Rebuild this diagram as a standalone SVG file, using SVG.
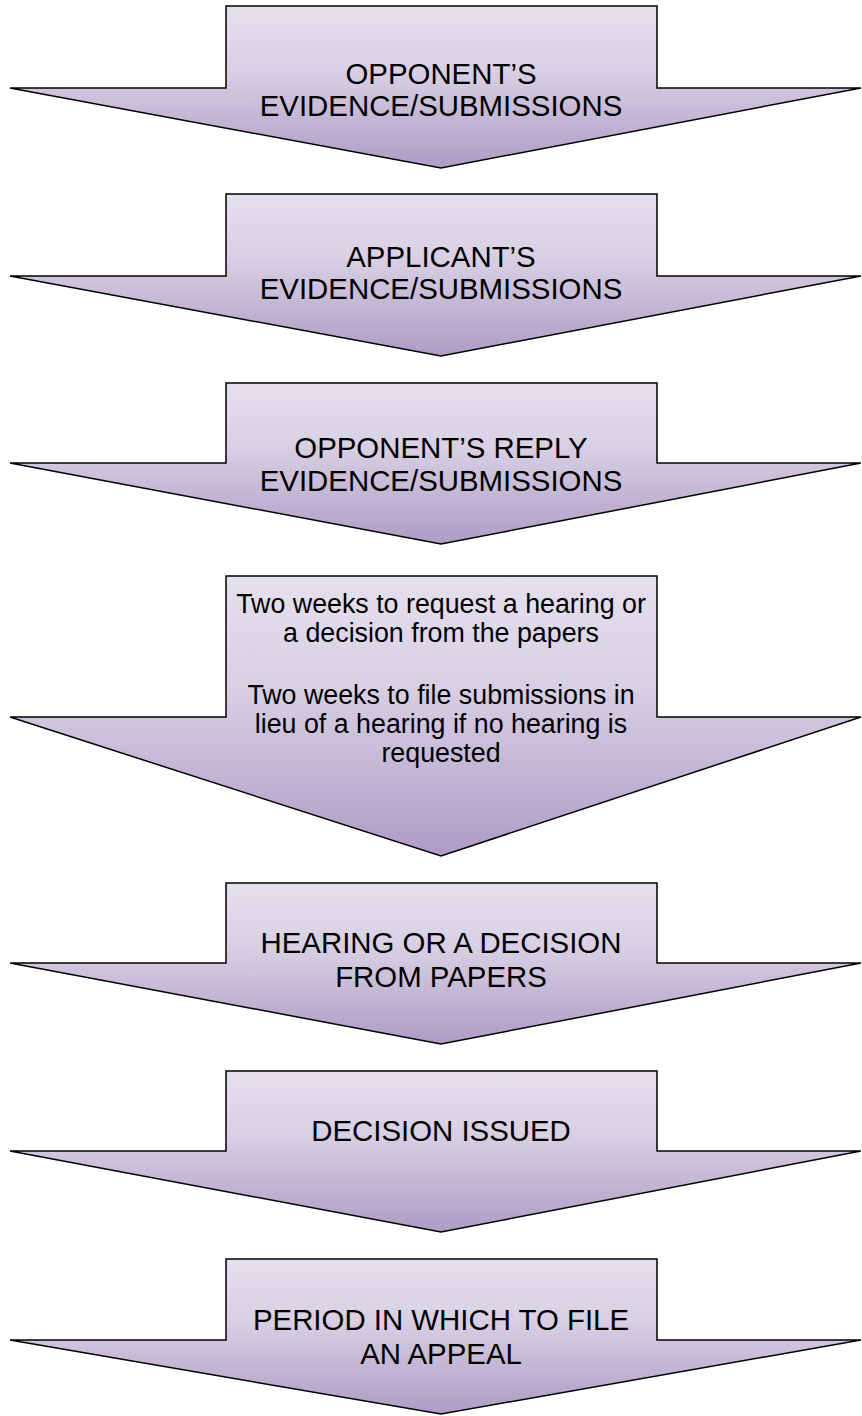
<svg xmlns="http://www.w3.org/2000/svg" width="862" height="1416" viewBox="0 0 862 1416">
<defs>
<linearGradient id="g" x1="0" y1="0" x2="0" y2="1">
<stop offset="0" stop-color="#e5e0ed"/>
<stop offset="0.4" stop-color="#d8cfe4"/>
<stop offset="1" stop-color="#ae9cc5"/>
</linearGradient>
<style>
.a{fill:url(#g);stroke:#000;stroke-width:1.5;stroke-linejoin:miter}
.t{font-family:"Liberation Sans",Arial,sans-serif;font-size:29.4px;fill:#000;text-anchor:middle}
.b{font-family:"Liberation Sans",Arial,sans-serif;font-size:26.8px;fill:#000;text-anchor:middle}
</style>
</defs>
<rect width="862" height="1416" fill="#fff"/>
<g id="connectors"></g>
<g id="n1">
<path class="a" d="M226,6 H657 V88 H861 L441,168 L10,88 H226 Z"/>
<text class="t" x="441" y="84">OPPONENT’S</text>
<text class="t" x="441" y="116">EVIDENCE/SUBMISSIONS</text>
</g>
<g id="n2">
<path class="a" d="M226,194 H657 V276 H861 L441,356 L10,276 H226 Z"/>
<text class="t" x="441" y="267">APPLICANT’S</text>
<text class="t" x="441" y="299">EVIDENCE/SUBMISSIONS</text>
</g>
<g id="n3">
<path class="a" d="M226,383 H657 V463 H861 L441,544 L10,463 H226 Z"/>
<text class="t" x="441" y="458">OPPONENT’S REPLY</text>
<text class="t" x="441" y="491">EVIDENCE/SUBMISSIONS</text>
</g>
<g id="n4">
<path class="a" d="M226,576 H657 V717 H861 L441,856 L10,717 H226 Z"/>
<text class="b" x="441" y="613">Two weeks to request a hearing or</text>
<text class="b" x="441" y="642">a decision from the papers</text>
<text class="b" x="441" y="704">Two weeks to file submissions in</text>
<text class="b" x="441" y="733">lieu of a hearing if no hearing is</text>
<text class="b" x="441" y="762">requested</text>
</g>
<g id="n5">
<path class="a" d="M226,883 H657 V963 H861 L441,1044 L10,963 H226 Z"/>
<text class="t" x="441" y="953">HEARING OR A DECISION</text>
<text class="t" x="441" y="987">FROM PAPERS</text>
</g>
<g id="n6">
<path class="a" d="M226,1071 H657 V1151 H861 L441,1232 L10,1151 H226 Z"/>
<text class="t" x="441" y="1141">DECISION ISSUED</text>
</g>
<g id="n7">
<path class="a" d="M226,1259 H657 V1340 H861 L441,1414 L10,1340 H226 Z"/>
<text class="t" x="441" y="1330">PERIOD IN WHICH TO FILE</text>
<text class="t" x="441" y="1364">AN APPEAL</text>
</g>
</svg>
